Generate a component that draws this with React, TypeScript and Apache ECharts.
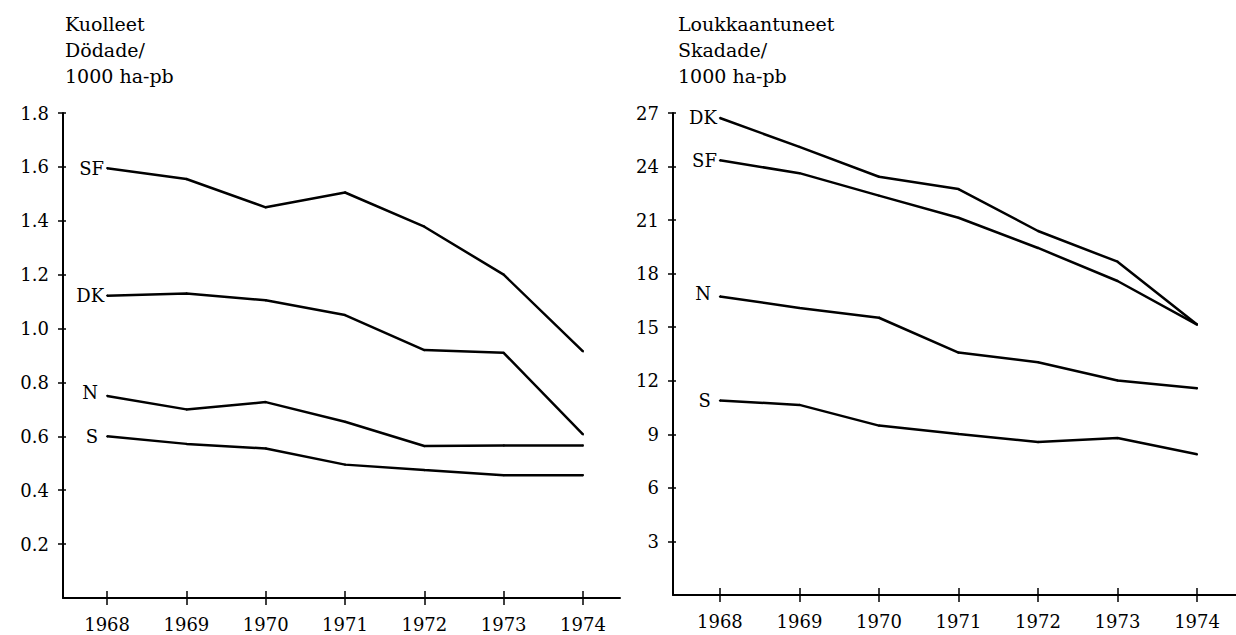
import React, { useEffect, useRef } from "react";
import * as echarts from "echarts";

const years = [1968, 1969, 1970, 1971, 1972, 1973, 1974];

// Kuolleet / Dödade per 1000 ha-pb
const deadSF = [1.595, 1.555, 1.45, 1.505, 1.378, 1.2, 0.915];
const deadDK = [1.122, 1.13, 1.105, 1.05, 0.92, 0.91, 0.607];
const deadN = [0.75, 0.7, 0.727, 0.654, 0.564, 0.566, 0.566];
const deadS = [0.6, 0.572, 0.555, 0.495, 0.475, 0.456, 0.456];

// Loukkaantuneet / Skadade per 1000 ha-pb
const injDK = [26.72, 25.1, 23.43, 22.74, 20.39, 18.67, 15.15];
const injSF = [24.35, 23.63, 22.37, 21.13, 19.44, 17.59, 15.15];
const injN = [16.72, 16.08, 15.53, 13.58, 13.04, 12.02, 11.58];
const injS = [10.89, 10.65, 9.49, 9.02, 8.57, 8.79, 7.88];

const leftTitle = "Kuolleet\nDödade/\n1000 ha-pb";
const rightTitle = "Loukkaantuneet\nSkadade/\n1000 ha-pb";

const FONT = "'DejaVu Serif', 'Liberation Serif', serif";

export default function App() {
  const ref = useRef<HTMLDivElement>(null);

  useEffect(() => {
    if (!ref.current) return;
    const chart = echarts.init(ref.current, undefined, { renderer: "svg" });

    const mkX = (grid: number, min: number, max: number, main: boolean) => ({
      gridIndex: grid,
      type: "value",
      position: "bottom",
      min,
      max,
      axisLine: {
        show: main,
        onZero: false,
        lineStyle: { color: "#000", width: 2 },
      },
      axisTick: {
        show: true,
        inside: !main,
        customValues: years,
        length: 7,
        lineStyle: { color: "#000", width: 1.5 },
      },
      axisLabel: {
        show: main,
        customValues: years,
        formatter: (v: number) => String(Math.round(v)),
        margin: 17,
        color: "#000",
        fontFamily: FONT,
        fontSize: 18,
      },
      splitLine: { show: false },
    });

    const mkY = (
      grid: number,
      max: number,
      interval: number,
      digits: number,
      main: boolean
    ) => ({
      gridIndex: grid,
      type: "value",
      position: "left",
      min: 0,
      max,
      interval,
      axisLine: {
        show: main,
        onZero: false,
        lineStyle: { color: "#000", width: 2 },
      },
      axisTick: {
        show: true,
        inside: !main,
        length: main ? 5 : 3,
        lineStyle: { color: "#000", width: 1.5 },
      },
      axisLabel: {
        show: main,
        showMinLabel: false,
        formatter: (v: number) => (v === 0 ? "" : v.toFixed(digits)),
        margin: 14,
        color: "#000",
        fontFamily: FONT,
        fontSize: 18,
      },
      splitLine: { show: false },
    });

    const mkSeries = (
      name: string,
      values: number[],
      xi: number,
      yi: number,
      offset: number[] = [0, 0]
    ) => ({
      type: "line",
      name,
      xAxisIndex: xi,
      yAxisIndex: yi,
      symbol: "circle",
      symbolSize: 2,
      showSymbol: true,
      itemStyle: { color: "#000" },
      lineStyle: { color: "#000", width: 2.5 },
      label: { show: false },
      data: values.map((v, i) =>
        i === 0
          ? {
              value: [years[i], v],
              label: {
                show: true,
                position: "left",
                distance: 2,
                offset,
                formatter: name,
                color: "#000",
                fontFamily: FONT,
                fontSize: 18,
              },
            }
          : [years[i], v]
      ),
    });

    const titleStyle = {
      fontFamily: FONT,
      fontSize: 19,
      fontWeight: "normal",
      lineHeight: 26,
      color: "#000",
    };

    chart.setOption({
      animation: false,
      backgroundColor: "#fff",
      title: [
        { text: leftTitle, left: 60, top: 6, textStyle: titleStyle },
        { text: rightTitle, left: 673, top: 6, textStyle: titleStyle },
      ],
      grid: [
        { left: 63, top: 113, width: 557, height: 485 },
        { left: 673, top: 113, width: 563, height: 482 },
      ],
      xAxis: [
        mkX(0, 1967.444, 1974.467, true),
        mkX(0, 1967.444, 1974.467, false),
        mkX(1, 1967.41, 1974.49, true),
        mkX(1, 1967.41, 1974.49, false),
      ],
      yAxis: [
        mkY(0, 1.8, 0.2, 1, true),
        mkY(0, 1.8, 0.2, 1, false),
        mkY(1, 27, 3, 0, true),
        mkY(1, 27, 3, 0, false),
      ],
      series: [
        mkSeries("SF", deadSF, 0, 0),
        mkSeries("DK", deadDK, 0, 0),
        mkSeries("N", deadN, 0, 0, [-6, -3]),
        mkSeries("S", deadS, 0, 0, [-6, 0]),
        mkSeries("DK", injDK, 2, 2),
        mkSeries("SF", injSF, 2, 2),
        mkSeries("N", injN, 2, 2, [-6, -3]),
        mkSeries("S", injS, 2, 2, [-6, 0]),
      ],
    });

    return () => chart.dispose();
  }, []);

  return (
    <div
      ref={ref}
      style={{
        position: "absolute",
        left: 0,
        top: 0,
        width: 1236,
        height: 635,
        background: "#fff",
      }}
    />
  );
}
